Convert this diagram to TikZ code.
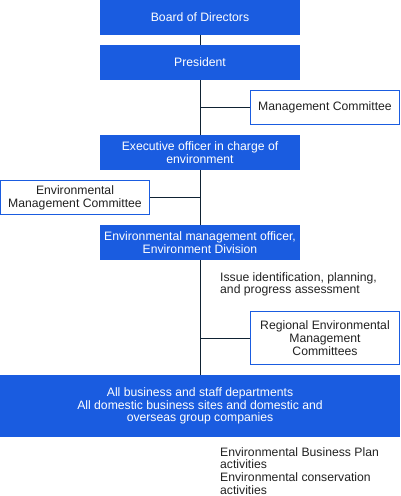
\documentclass[tikz,border=0pt]{standalone}
\usepackage{fontspec}
\setmainfont{Liberation Sans}
\definecolor{orgblue}{HTML}{1A5CE0}
\definecolor{linedark}{HTML}{0F2233}
\definecolor{textdark}{HTML}{222222}

\begin{document}
\begin{tikzpicture}[x=1pt,y=1pt,
    bluebox/.style={fill=orgblue,text=white,minimum width=200,minimum height=35,
      inner sep=0pt,align=center,font=\fontsize{12.2}{12.8}\selectfont},
    whitebox/.style={draw=orgblue,line width=0.9pt,fill=white,text=textdark,minimum width=149,
      minimum height=34,inner sep=0pt,align=center,font=\fontsize{12.2}{12.8}\selectfont},
    note/.style={text=textdark,anchor=north west,inner sep=0pt,align=left,
      font=\fontsize{12.2}{12.8}\selectfont},
    link/.style={draw=linedark,line width=0.8pt}]
    \useasboundingbox (0,0) rectangle (400,-496);
    \node[bluebox] (board) at (200,-17.5) {Board of Directors};
    \node[bluebox] (pres) at (200,-62.5) {President};
    \node[whitebox] (mgmt) at (325,-107.5) {Management Committee};
    \node[bluebox] (exec) at (200,-152.5) {Executive officer in charge of\\environment};
    \node[whitebox] (emc) at (75,-197.5) {Environmental\\Management Committee};
    \node[bluebox] (emo) at (200,-242.5) {Environmental management officer,\\Environment Division};
    \node[note] (issue) at (220,-272) {Issue identification, planning,\\and progress assessment};
    \node[whitebox,minimum height=53] (reg) at (325,-338) {Regional Environmental\\Management\\Committees};
    \node[bluebox,minimum width=400,minimum height=62] (all) at (200,-406)
      {All business and staff departments\\All domestic business sites and domestic and\\overseas group companies};
    \node[note] (act) at (220,-447) {Environmental Business Plan\\activities\\Environmental conservation\\activities};
    % vertical spine
    \draw[link] (board.south) -- (pres.north);
    \draw[link] (pres.south) -- (exec.north);
    \draw[link] (exec.south) -- (emo.north);
    \draw[link] (emo.south) -- (all.north);
    % side branches
    \draw[link] (pres.south |- mgmt.west) -- (mgmt.west);
    \draw[link] (exec.south |- emc.east) -- (emc.east);
    \draw[link] (emo.south |- reg.west) -- (reg.west);
\end{tikzpicture}
\end{document}
